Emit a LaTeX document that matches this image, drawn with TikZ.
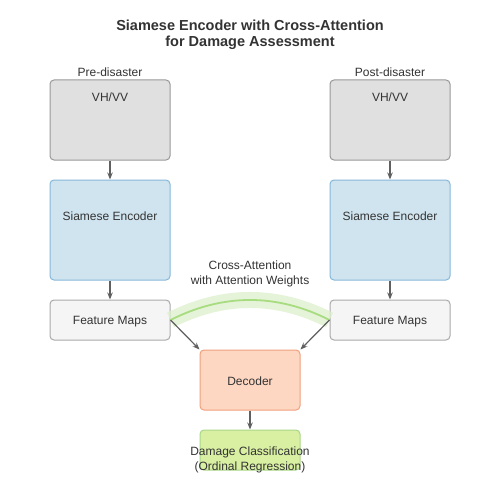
\documentclass[tikz,border=0pt]{standalone}
\usepackage{fontspec}
\setmainfont{Liberation Sans}
\usetikzlibrary{arrows.meta}
\definecolor{txt}{HTML}{333333}
\definecolor{grayfill}{HTML}{E0E0E0}
\definecolor{grayedge}{HTML}{999999}
\definecolor{bluefill}{HTML}{D0E4F0}
\definecolor{blueedge}{HTML}{86B8DA}
\definecolor{fmfill}{HTML}{F5F5F5}
\definecolor{fmedge}{HTML}{AAAAAA}
\definecolor{decfill}{HTML}{FDD7C2}
\definecolor{decedge}{HTML}{F0A07C}
\definecolor{clsfill}{HTML}{D9F0A2}
\definecolor{clsedge}{HTML}{A8D688}
\definecolor{arrcol}{HTML}{5F5F5F}
\definecolor{bandcol}{HTML}{DDF0CC}
\definecolor{arccol}{HTML}{A8DC80}
\begin{document}
\begin{tikzpicture}[x=1pt,y=-1pt,
  box/.style={draw, rounded corners=4pt, line width=1pt, inner sep=0pt, minimum width=#1},
  inbox/.style={box=120pt, draw=grayedge, fill=grayfill, minimum height=80pt},
  encbox/.style={box=120pt, draw=blueedge, fill=bluefill, minimum height=100pt},
  fmbox/.style={box=120pt, draw=fmedge, fill=fmfill, minimum height=40pt},
  decbox/.style={box=100pt, draw=decedge, fill=decfill, minimum height=60pt},
  clsbox/.style={box=100pt, draw=clsedge, fill=clsfill, minimum height=40pt},
  lbl/.style={text=txt, font=\fontsize{12}{14}\selectfont, inner sep=0pt},
  ttl/.style={text=txt, font=\bfseries\fontsize{14.5}{16}\selectfont, align=center, inner sep=0pt},
  arr/.style={draw=arrcol, line width=1.2pt, -{Stealth[length=7pt,width=5.5pt]}},
  band/.style={draw=bandcol, line width=16pt, opacity=0.75},
  arcline/.style={draw=arccol, line width=1.8pt}
]
\useasboundingbox (0,0) rectangle (500,500);
\fill[white] (0,0) rectangle (500,500);

\node[ttl] (title) at (250,34.5) {Siamese Encoder with Cross-Attention\\for Damage Assessment};

\node[lbl] (prelbl) at (110,72) {Pre-disaster};
\node[lbl] (postlbl) at (390,72) {Post-disaster};

\node[inbox] (pre) at (110,120) {};
\node[inbox] (post) at (390,120) {};
\node[lbl] (pretxt) at (110,97) {VH/VV};
\node[lbl] (posttxt) at (390,97) {VH/VV};

\node[encbox] (preenc) at (110,230) {};
\node[encbox] (postenc) at (390,230) {};
\node[lbl] (preenctxt) at (110,216.5) {Siamese Encoder};
\node[lbl] (postenctxt) at (390,216.5) {Siamese Encoder};

\node[fmbox] (prefm) at (110,320) {};
\node[fmbox] (postfm) at (390,320) {};
\node[lbl] (prefmtxt) at (110,322) {Feature Maps};
\node[lbl] (postfmtxt) at (390,322) {Feature Maps};

\node[decbox] (dec) at (250,380) {};
\node[lbl] (dectxt) at (250,381.5) {Decoder};

\node[clsbox] (cls) at (250,450) {};
\node[lbl, align=center, font=\fontsize{12}{15}\selectfont] (clstxt) at (250,459.5) {Damage Classification\\(Ordinal Regression)};

\node[lbl, align=center, font=\fontsize{12}{15.5}\selectfont] (catxt) at (250,274) {Cross-Attention\\with Attention Weights};

\draw[band] (prefm.east) .. controls (223.3,293.3) and (276.7,293.3) .. (postfm.west);
\draw[arcline] (prefm.east) .. controls (223.3,293.3) and (276.7,293.3) .. (postfm.west);

\draw[arr] (pre.south) -- (preenc.north);
\draw[arr] (post.south) -- (postenc.north);
\draw[arr] (preenc.south) -- (prefm.north);
\draw[arr] (postenc.south) -- (postfm.north);
\draw[arr] (prefm.east) -- (dec.north west);
\draw[arr] (postfm.west) -- (dec.north east);
\draw[arr] (dec.south) -- (cls.north);
\end{tikzpicture}
\end{document}
